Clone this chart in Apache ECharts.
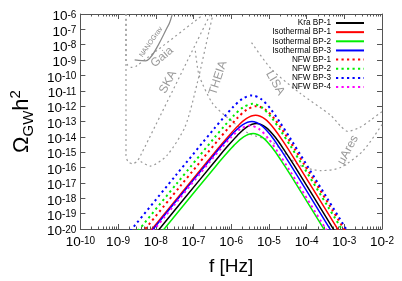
<!DOCTYPE html>
<html><head><meta charset="utf-8">
<script src="https://cdn.jsdelivr.net/npm/echarts@6/dist/echarts.min.js"></script>
<style>html,body{margin:0;padding:0;background:#fff}#c{width:402px;height:281px}</style>
</head><body><div id="c"></div>
<script>
// ---------- data (log10 values) ----------
// Signal spectra: log10 f [Hz] and log10 Omega_GW h^2
const kraLogF   = [-8.83,-7.33,-6.33,-6.08,-5.83,-5.58,-5.33,-5.08,-4.83,-4.58,-4.33,-3.33,-2.33];
const kraLogO   = [-22.78,-18.28,-15.29,-14.57,-13.89,-13.35,-13.13,-13.38,-14.03,-14.91,-15.86,-19.84,-23.84];
const iso1LogF  = [-8.85,-7.35,-6.35,-6.10,-5.85,-5.60,-5.35,-5.10,-4.85,-4.60,-4.35,-3.35,-2.35];
const iso1LogO  = [-22.25,-17.75,-14.76,-14.04,-13.36,-12.82,-12.60,-12.85,-13.50,-14.38,-15.33,-19.31,-23.31];
const iso2LogF  = [-8.92,-7.42,-6.42,-6.17,-5.92,-5.67,-5.42,-5.17,-4.92,-4.67,-4.42,-3.42,-2.42];
const iso2LogO  = [-23.43,-18.93,-15.94,-15.22,-14.54,-14.00,-13.78,-14.03,-14.68,-15.56,-16.51,-20.49,-24.49];
const iso3LogF  = [-8.95,-7.45,-6.45,-6.20,-5.95,-5.70,-5.45,-5.20,-4.95,-4.70,-4.45,-3.45,-2.45];
const iso3LogO  = [-22.65,-18.15,-15.16,-14.44,-13.76,-13.22,-13.00,-13.25,-13.90,-14.78,-15.73,-19.71,-23.71];
const nfw1LogF  = [-8.83,-7.33,-6.33,-6.08,-5.83,-5.58,-5.33,-5.08,-4.83,-4.58,-4.33,-3.33,-2.33];
const nfw1LogO  = [-21.65,-17.15,-14.16,-13.44,-12.76,-12.22,-12.00,-12.25,-12.90,-13.78,-14.73,-18.71,-22.71];
const nfw2LogF  = [-8.93,-7.43,-6.43,-6.18,-5.93,-5.68,-5.43,-5.18,-4.93,-4.68,-4.43,-3.43,-2.43];
const nfw2LogO  = [-21.50,-17.00,-14.01,-13.29,-12.61,-12.07,-11.85,-12.10,-12.75,-13.63,-14.58,-18.56,-22.56];
const nfw3LogF  = [-8.95,-7.45,-6.45,-6.20,-5.95,-5.70,-5.45,-5.20,-4.95,-4.70,-4.45,-3.45,-2.45];
const nfw3LogO  = [-20.95,-16.45,-13.46,-12.74,-12.06,-11.52,-11.30,-11.55,-12.20,-13.08,-14.03,-18.01,-22.01];
const nfw4LogF  = [-9.00,-7.50,-6.50,-6.25,-6.00,-5.75,-5.50,-5.25,-5.00,-4.75,-4.50,-3.50,-2.50];
const nfw4LogO  = [-22.91,-18.41,-15.42,-14.70,-14.02,-13.48,-13.26,-13.51,-14.16,-15.04,-15.99,-19.97,-23.97];

// Sensitivity curves
const skaLogF   = [-8.79,-8.79,-8.74,-8.62,-8.50,-8.40,-6.55];
const skaLogO   = [-6.00,-15.20,-15.60,-15.75,-15.60,-15.20,-6.00];
const gaiaLogF  = [-8.79,-8.79,-8.74,-8.64,-8.52,-6.72];
const gaiaLogO  = [-6.00,-9.05,-9.35,-9.47,-9.40,-6.00];
const nanoLogF  = [-8.56,-8.27,-7.66,-7.56];
const nanoLogO  = [-8.99,-9.05,-6.71,-6.00];
const theiaLogF = [-8.40,-8.15,-7.70,-7.22,-6.90,-6.59,-6.48];
const theiaLogO = [-15.60,-15.90,-15.20,-13.32,-10.50,-7.15,-6.00];
const lisaLogF  = [-5.46,-4.93,-4.15,-3.36,-3.10,-2.91,-2.60,-2.30,-2.00];
const lisaLogO  = [-7.86,-9.60,-11.20,-12.60,-13.30,-13.64,-13.40,-12.90,-12.36];
const maresLogF = [-6.95,-6.85,-6.50,-6.17,-5.54,-4.93,-4.23,-3.62,-3.10,-2.50,-2.00];
const maresLogO = [-8.40,-10.00,-11.80,-12.60,-13.77,-14.30,-15.80,-16.20,-16.00,-14.90,-13.20];

const legendNames = ['Kra BP-1','Isothermal BP-1','Isothermal BP-2','Isothermal BP-3','NFW BP-1','NFW BP-2','NFW BP-3','NFW BP-4'];
const xDecades = [-10,-9,-8,-7,-6,-5,-4,-3,-2];
const yDecades = [-20,-19,-18,-17,-16,-15,-14,-13,-12,-11,-10,-9,-8,-7,-6];

// ---------- chart ----------
const FONT = 'Liberation Sans, Arial, sans-serif';
const AX = '#555';
const GREY = '#9a9a9a';
const pts = (lf, lo) => lf.map((v, i) => [Math.pow(10, v), Math.pow(10, lo[i])]);
const xMajor = xDecades.map(e => Math.pow(10, e));
const yMajor = yDecades.map(e => Math.pow(10, e));
const yEven = yDecades.filter(e => e % 2 === 0).map(e => Math.pow(10, e));
const yOdd = yDecades.filter(e => e % 2 !== 0).map(e => Math.pow(10, e));
const xMinor = [];
for (let i = 0; i < xDecades.length - 1; i++) for (let k = 2; k <= 9; k++) xMinor.push(k * Math.pow(10, xDecades[i]));

const expRich = {
  b: {fontSize: 13.5, fontFamily: FONT, color: '#000', lineHeight: 8, padding: [5, 0, 0, 0]},
  s: {fontSize: 10, fontFamily: FONT, color: '#000', lineHeight: 6, verticalAlign: 'top'}
};
const expFmt = v => '{b|10}{s|' + Math.round(Math.log10(v)) + '}';

function sig(name, lf, lo, color, dotted) {
  return {
    name, type: 'line', data: pts(lf, lo), symbol: 'none', smooth: 0.3,
    lineStyle: {color, width: dotted ? 2 : 1.5, type: dotted ? [2.2, 3.3] : 'solid'},
    itemStyle: {color}, z: 3
  };
}
function sens(name, lf, lo, solid) {
  return {
    name, type: 'line', data: pts(lf, lo), symbol: 'none', smooth: 0.25, silent: true,
    lineStyle: {color: solid ? '#8a8a8a' : GREY, width: 1.2, type: solid ? 'solid' : [2, 3]}, z: 2
  };
}

const baseX = {type: 'log', logBase: 10, min: 1e-10, max: 1e-2, gridIndex: 0, splitLine: {show: false}};
const baseY = {type: 'log', logBase: 10, min: 1e-20, max: 1e-6, gridIndex: 0, splitLine: {show: false}};
const yLabel = vals => ({formatter: expFmt, rich: expRich, margin: 4, customValues: vals,
  showMinLabel: true, showMaxLabel: true, hideOverlap: false});

const option = {
  animation: false,
  backgroundColor: '#fff',
  grid: {left: 77, right: 20, top: 14, bottom: 49},
  legend: {
    data: legendNames, orient: 'vertical', align: 'right', right: 37, top: 18.5, padding: 0,
    itemWidth: 28, itemHeight: 9, itemGap: 0.15,
    itemStyle: {opacity: 0, borderWidth: 0},
    textStyle: {fontSize: 8.2, fontFamily: FONT, color: '#000', lineHeight: 9}
  },
  xAxis: [
    Object.assign({}, baseX, {position: 'bottom',
      axisLine: {onZero: false, lineStyle: {color: AX, width: 1}},
      axisTick: {inside: true, length: 5, customValues: xMajor, lineStyle: {color: AX}},
      axisLabel: {formatter: expFmt, rich: expRich, margin: 7, customValues: xMajor, showMinLabel: true, showMaxLabel: true, hideOverlap: false},
      name: 'f [Hz]', nameLocation: 'middle', nameGap: 28,
      nameTextStyle: {fontSize: 19, fontFamily: FONT, color: '#000'}}),
    Object.assign({}, baseX, {position: 'bottom', axisLine: {show: false},
      axisTick: {inside: true, length: 2.5, customValues: xMinor, lineStyle: {color: AX}},
      axisLabel: {show: false}}),
    Object.assign({}, baseX, {position: 'top',
      axisLine: {onZero: false, lineStyle: {color: AX, width: 1}},
      axisTick: {inside: true, length: 5, customValues: xMajor, lineStyle: {color: AX}}, axisLabel: {show: false}}),
    Object.assign({}, baseX, {position: 'top', axisLine: {show: false},
      axisTick: {inside: true, length: 2.5, customValues: xMinor, lineStyle: {color: AX}},
      axisLabel: {show: false}})
  ],
  yAxis: [
    Object.assign({}, baseY, {position: 'left',
      axisLine: {onZero: false, lineStyle: {color: AX, width: 1}},
      axisTick: {inside: true, length: 5, customValues: yMajor, lineStyle: {color: AX}},
      axisLabel: yLabel(yEven),
      name: '{o|Ω}{sub|GW}{n|h}{sup|2}', nameLocation: 'middle', nameGap: 44, nameRotate: 90,
      nameTextStyle: {rich: {
        o: {fontSize: 22, fontFamily: FONT, color: '#000', lineHeight: 28},
        n: {fontSize: 22, fontFamily: FONT, color: '#000', lineHeight: 28},
        sub: {fontSize: 15, fontFamily: FONT, color: '#000', lineHeight: 15, verticalAlign: 'bottom'},
        sup: {fontSize: 15, fontFamily: FONT, color: '#000', lineHeight: 15, verticalAlign: 'top'}
      }}}),
    Object.assign({}, baseY, {position: 'right',
      axisLine: {onZero: false, lineStyle: {color: AX, width: 1}},
      axisTick: {inside: true, length: 5, customValues: yMajor, lineStyle: {color: AX}}, axisLabel: {show: false}}),
    Object.assign({}, baseY, {position: 'left', offset: 0,
      axisLine: {show: false}, axisTick: {show: false},
      axisLabel: yLabel(yOdd)})
  ],
  series: [
    sens('SKA', skaLogF, skaLogO),
    sens('Gaia', gaiaLogF, gaiaLogO),
    sens('NANOGrav', nanoLogF, nanoLogO, true),
    sens('THEIA', theiaLogF, theiaLogO),
    sens('LISA', lisaLogF, lisaLogO),
    sens('μAres', maresLogF, maresLogO),
    sig('Kra BP-1', kraLogF, kraLogO, '#000000', false),
    sig('Isothermal BP-1', iso1LogF, iso1LogO, '#ff0000', false),
    sig('Isothermal BP-2', iso2LogF, iso2LogO, '#00ee00', false),
    sig('Isothermal BP-3', iso3LogF, iso3LogO, '#0000ff', false),
    sig('NFW BP-1', nfw1LogF, nfw1LogO, '#ff0000', true),
    sig('NFW BP-2', nfw2LogF, nfw2LogO, '#00ee00', true),
    sig('NFW BP-3', nfw3LogF, nfw3LogO, '#0000ff', true),
    sig('NFW BP-4', nfw4LogF, nfw4LogO, '#ff00ff', true)
  ],
  graphic: [
    {type: 'text', x: 151, y: 42, rotation: 55 * Math.PI / 180, style: {text: 'NANOGrav', font: '7px ' + FONT, fill: '#888', align: 'center', verticalAlign: 'middle'}},
    {type: 'text', x: 162, y: 57, rotation: 40 * Math.PI / 180, style: {text: 'Gaia', font: '12px ' + FONT, fill: GREY, align: 'center', verticalAlign: 'middle'}},
    {type: 'text', x: 168, y: 82, rotation: 62 * Math.PI / 180, style: {text: 'SKA', font: '12px ' + FONT, fill: GREY, align: 'center', verticalAlign: 'middle'}},
    {type: 'text', x: 218, y: 78, rotation: 72 * Math.PI / 180, style: {text: 'THEIA', font: '12px ' + FONT, fill: GREY, align: 'center', verticalAlign: 'middle'}},
    {type: 'text', x: 275, y: 83, rotation: -60 * Math.PI / 180, style: {text: 'LISA', font: '12px ' + FONT, fill: GREY, align: 'center', verticalAlign: 'middle'}},
    {type: 'text', x: 348, y: 150, rotation: 62 * Math.PI / 180, style: {text: 'μAres', font: '12px ' + FONT, fill: GREY, align: 'center', verticalAlign: 'middle'}}
  ]
};
const chart = echarts.init(document.getElementById('c'), null, {renderer: 'canvas'});
chart.setOption(option);
</script>
</body></html>
